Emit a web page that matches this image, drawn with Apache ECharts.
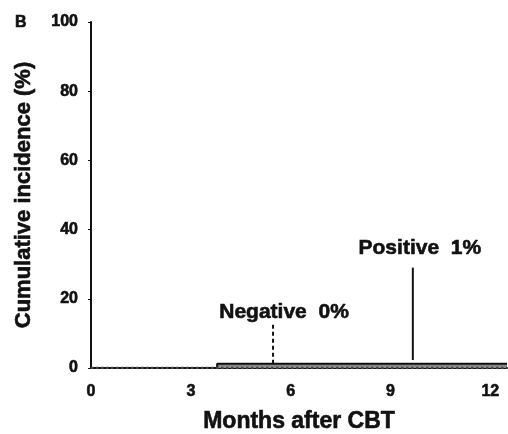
<!DOCTYPE html>
<html><head><meta charset="utf-8">
<script src="https://cdn.jsdelivr.net/npm/echarts@6/dist/echarts.min.js"></script>
<style>html,body{margin:0;padding:0;background:#fff}#c{width:508px;height:434px}</style>
</head><body><div id="c"></div>
<script>
const xTicks = [0, 3, 6, 9, 12];
const yTicks = [0, 20, 40, 60, 80, 100];
const negativeCurve = [[0, 0], [12.5, 0]];
const positiveCurve = [[0, 0], [3.79, 0], [3.79, 1.2], [12.5, 1.2]];
const negativeMarker = [[5.47, 12.5], [5.47, 0.5]];
const positiveMarker = [[9.67, 29], [9.67, 2.3]];
const negativeLabel = 'Negative  0%';
const positiveLabel = 'Positive  1%';
const panelLabel = 'B';
const xName = 'Months after CBT';
const yName = 'Cumulative incidence (%)';

const font = 'Liberation Sans, Arial, sans-serif';
const heavy = { fontFamily: font, fontWeight: 'bold', color: '#111', textBorderColor: '#111', textBorderWidth: 0.6 };
const labelStyle = Object.assign({ fontSize: 21 }, heavy);
const chart = echarts.init(document.getElementById('c'));
chart.setOption({
  animation: false,
  backgroundColor: '#fff',
  grid: { left: 91, right: 1, top: 22, bottom: 66, outerBoundsMode: 'none', containLabel: false },
  title: { text: panelLabel, left: 10, top: 10, textStyle: Object.assign({ fontSize: 16 }, heavy) },
  xAxis: {
    type: 'value', min: 0, max: 12.5, interval: 3,
    name: xName, nameLocation: 'middle', nameGap: 42,
    nameTextStyle: Object.assign({ fontSize: 23 }, heavy),
    axisLine: { show: true, lineStyle: { color: '#111', width: 2 } },
    axisTick: { show: false },
    splitLine: { show: false },
    axisLabel: Object.assign({ fontSize: 16, margin: 16, showMaxLabel: false,
      formatter: v => xTicks.includes(v) ? String(v) : '' }, heavy)
  },
  yAxis: {
    type: 'value', min: 0, max: 100, interval: 20,
    name: yName, nameLocation: 'middle', nameGap: 56, nameRotate: 90,
    nameTextStyle: Object.assign({ fontSize: 22 }, heavy),
    axisLine: { show: true, lineStyle: { color: '#111', width: 2 } },
    axisTick: { show: true, length: 3, lineStyle: { color: '#111', width: 1 } },
    splitLine: { show: false },
    axisLabel: Object.assign({ fontSize: 16, margin: 13,
      formatter: v => yTicks.includes(v) ? String(v) : '' }, heavy)
  },
  series: [
    { type: 'line', data: positiveCurve, symbol: 'none', lineStyle: { color: '#111', width: 2 },
      areaStyle: { color: '#8a8a8a', opacity: 1 } },
    { type: 'line', data: negativeCurve, symbol: 'none', lineStyle: { color: '#444', width: 2.5, type: 'dotted' } },
    { type: 'line', data: negativeMarker, symbol: 'circle', symbolSize: 0.01, lineStyle: { color: '#111', width: 2, type: [4, 3] },
      label: Object.assign({ show: true, position: 'top', distance: 2, offset: [11, 0],
        formatter: p => p.dataIndex === 0 ? negativeLabel : '' }, labelStyle) },
    { type: 'line', data: positiveMarker, symbol: 'circle', symbolSize: 0.01, lineStyle: { color: '#111', width: 2 },
      label: Object.assign({ show: true, position: 'top', distance: 9, offset: [7, 0],
        formatter: p => p.dataIndex === 0 ? positiveLabel : '' }, labelStyle) }
  ]
});
</script></body></html>
